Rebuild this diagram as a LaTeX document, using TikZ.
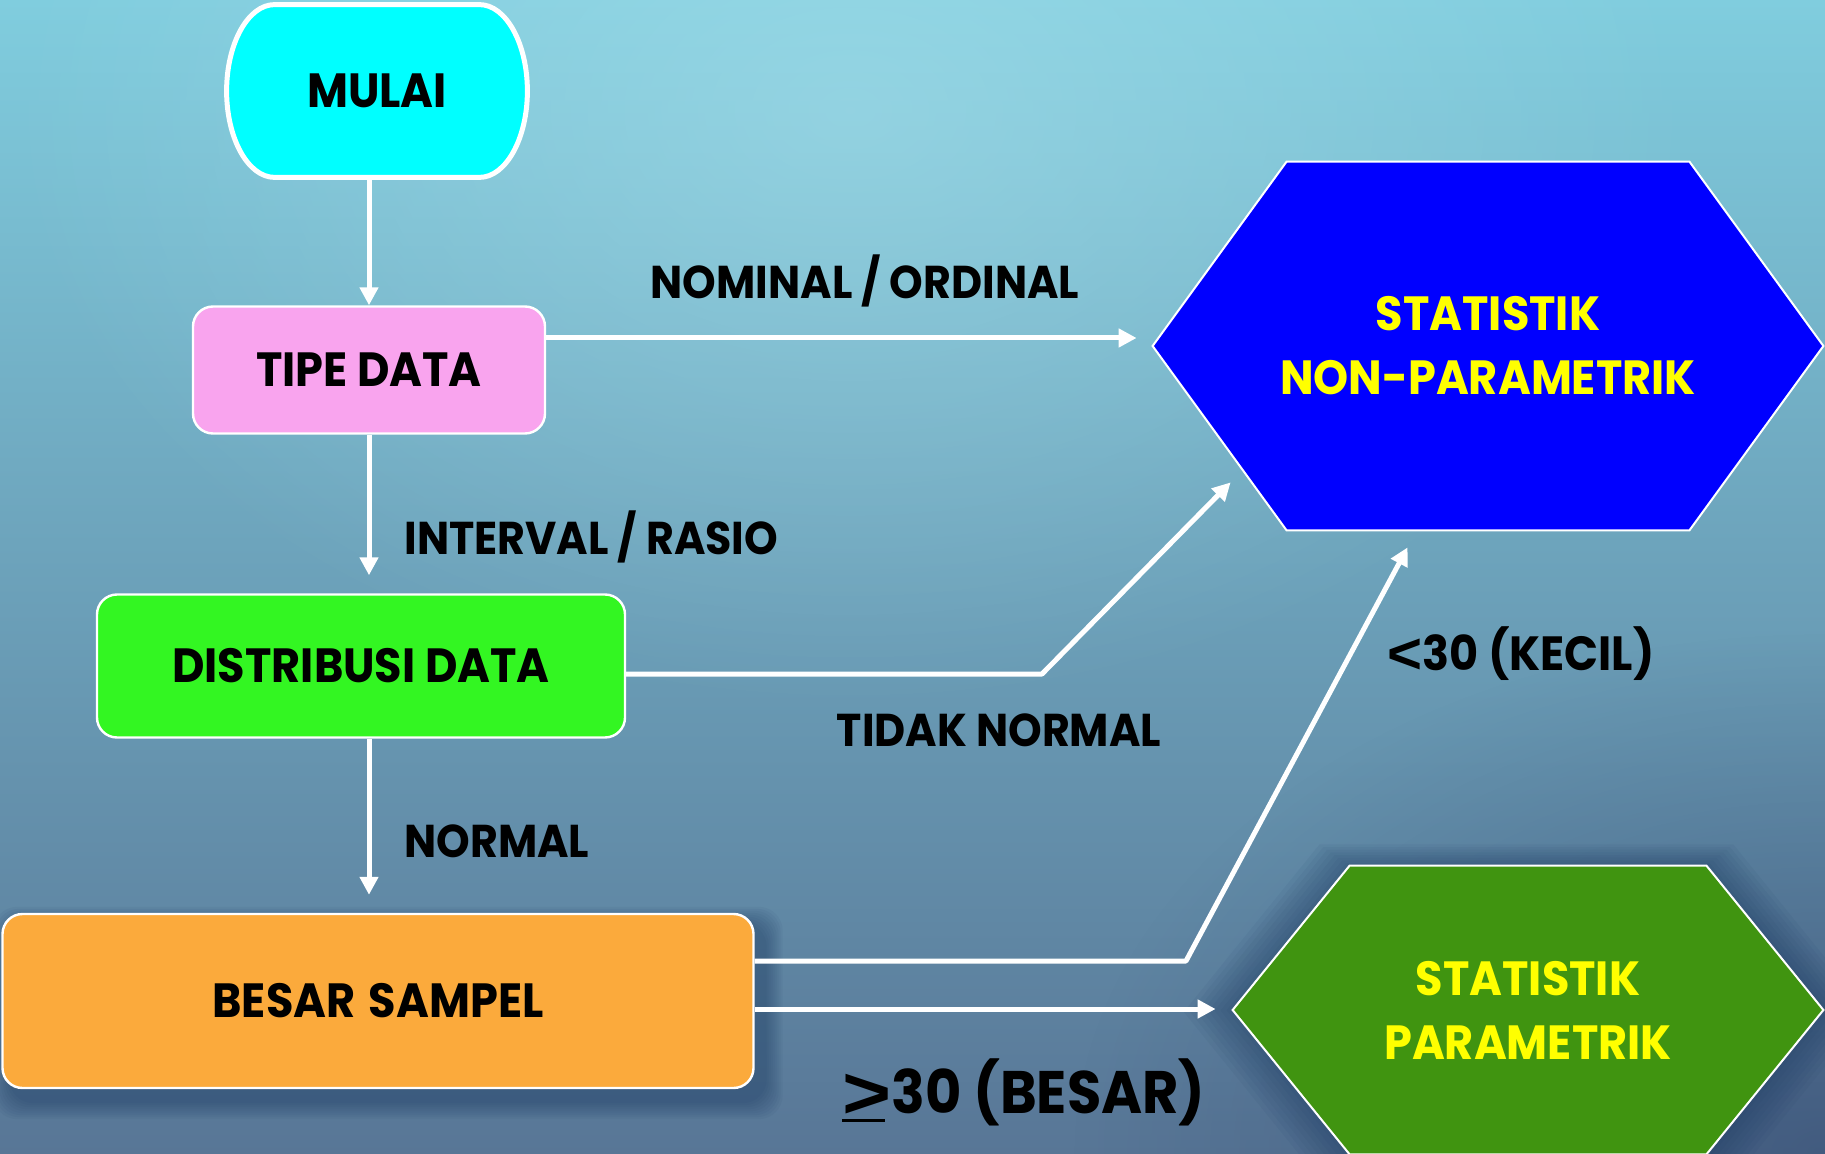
\documentclass[tikz,border=0pt]{standalone}
\usepackage{graphicx}
\usepackage{fontspec}
\setmainfont{Poppins}[FakeStretch=0.93]
\newfontfamily\symfnt{Liberation Sans}
\usetikzlibrary{arrows.meta,calc,fadings}
\definecolor{pinkc}{RGB}{249,164,238}
\definecolor{greenc}{RGB}{51,246,34}
\definecolor{orangec}{RGB}{251,170,60}
\definecolor{bluehex}{RGB}{0,0,255}
\definecolor{greenhex}{RGB}{64,148,16}
\definecolor{yellowc}{RGB}{255,255,0}
\definecolor{cyanc}{RGB}{0,255,255}
\definecolor{bgtop}{RGB}{128,205,222}
\definecolor{bgmid}{RGB}{108,180,204}
\definecolor{bgbot}{RGB}{88,118,150}
\definecolor{bgglow}{RGB}{175,228,238}
\definecolor{bgdark}{RGB}{45,65,105}
\definecolor{shadowc}{RGB}{25,55,95}
\tikzfading[name=glowfade, inner color=transparent!0, outer color=transparent!100]
\pgfdeclarelayer{bglayer}
\pgfdeclarelayer{shapelayer}
\pgfsetlayers{bglayer,shapelayer,main}
\begin{document}
\begin{tikzpicture}[x=0.5pt,y=-0.5pt,
  boxfont/.style={font=\fontsize{24}{28}\selectfont\bfseries, text height=16.7pt, text depth=0pt, inner sep=0pt},
  box/.style={boxfont, draw=white, line width=1.2pt, rounded corners=10pt},
  hextext/.style={font=\fontsize{24}{32}\selectfont\bfseries, text=yellowc, inner sep=0pt, align=center},
  lbl/.style={font=\fontsize{23}{28}\selectfont\bfseries, text height=16pt, text depth=0pt, inner sep=0pt},
  arr/.style={draw=white, line width=2.5pt, -{Triangle[length=9pt,width=9pt]}}]
\useasboundingbox (0,0) rectangle (1825,1154);
\begin{pgfonlayer}{bglayer}
  \shade[top color=bgtop, middle color=bgmid, bottom color=bgbot] (0,0) rectangle (1825,1154);
  \fill[bgglow, opacity=0.45, path fading=glowfade] (850,110) ellipse [x radius=850, y radius=600];
  \fill[bgdark, opacity=0.5, path fading=glowfade] (1825,1154) ellipse [x radius=750, y radius=520];
\end{pgfonlayer}

% nodes
\node[boxfont, minimum width=150pt, minimum height=86pt] (mulai) at (377,91) {MULAI};
\node[box, fill=pinkc, minimum width=176pt, minimum height=63.5pt] (tipe) at (369,370) {TIPE DATA};
\node[box, fill=greenc, minimum width=264pt, minimum height=71.5pt] (dist) at (361,666) {DISTRIBUSI DATA};
\node[box, fill=orangec, minimum width=375.5pt, minimum height=87pt] (besar) at (378,1001) {BESAR \hspace{2pt}SAMPEL};
\node[hextext, minimum width=335pt, minimum height=184pt] (npar) at (1488,346) {STATISTIK\\NON-PARAMETRIK};
\node[hextext, minimum width=295pt, minimum height=144pt] (par) at (1528,1010) {STATISTIK\\PARAMETRIK};

\begin{pgfonlayer}{shapelayer}
  % shadow of BESAR SAMPEL
  \foreach \i in {2,4,...,18}
    \fill[shadowc, opacity=0.055, rounded corners=12pt] ($(besar.north west)+(10-\i,12-\i)$) rectangle ($(besar.south east)+(10+\i,12+\i)$);
  % shadow of green hexagon
  \coordinate (pL) at (par.west);
  \coordinate (pTL) at ($(par.north west)+(117,0)$);
  \coordinate (pTR) at ($(par.north east)+(-117,0)$);
  \coordinate (pR) at (par.east);
  \coordinate (pBR) at ($(par.south east)+(-117,0)$);
  \coordinate (pBL) at ($(par.south west)+(117,0)$);
  \coordinate (pC) at ($(par.center)+(10,-12)$);
  \foreach \s in {1.02,1.04,...,1.16}
    \fill[shadowc, opacity=0.06] ($(pC)!\s!(pL)$) -- ($(pC)!\s!(pTL)$) -- ($(pC)!\s!(pTR)$) -- ($(pC)!\s!(pR)$) -- ($(pC)!\s!(pBR)$) -- ($(pC)!\s!(pBL)$) -- cycle;
  % MULAI terminal shape
  \draw[fill=cyanc, draw=white, line width=2.5pt]
    ($(mulai.north west)+(48,0)$) -- ($(mulai.north east)+(-48,0)$)
    .. controls +(26.5,0) and +(0,-47.5) .. (mulai.east)
    .. controls +(0,47.5) and +(26.5,0) .. ($(mulai.south east)+(-48,0)$)
    -- ($(mulai.south west)+(48,0)$)
    .. controls +(-26.5,0) and +(0,47.5) .. (mulai.west)
    .. controls +(0,-47.5) and +(-26.5,0) .. ($(mulai.north west)+(48,0)$) -- cycle;
  % blue hexagon
  \draw[fill=bluehex, draw=white, line width=1pt]
    (npar.west) -- ($(npar.north west)+(134,0)$) -- ($(npar.north east)+(-134,0)$) -- (npar.east)
    -- ($(npar.south east)+(-134,0)$) -- ($(npar.south west)+(134,0)$) -- cycle;
  % green hexagon
  \draw[fill=greenhex, draw=white, line width=1pt]
    (pL) -- (pTL) -- (pTR) -- (pR) -- (pBR) -- (pBL) -- cycle;
\end{pgfonlayer}

% vertical connectors
\draw[arr] (mulai.south -| tipe.north) -- (tipe.north);
\draw[arr, shorten >=9pt] (tipe.south) -- (tipe.south |- dist.north);
\draw[arr, shorten >=9pt] (dist.south -| tipe.south) -- (tipe.south |- besar.north);

% connectors to the hexagons
\coordinate (a1) at ($(tipe.east)+(0,-32)$);
\draw[arr, shorten >=8pt] (a1) -- (a1 -| npar.west);

\coordinate (b0) at ($(dist.east)+(0,8)$);
\coordinate (b1) at (1042,674);
\coordinate (b2) at ($(npar.south west)+(78,-48)$);
\draw[arr, line join=round] (b0) -- (b1) -- (b2);

\coordinate (c0) at ($(besar.east)+(0,-40)$);
\coordinate (c1) at (1186,961);
\coordinate (c2) at ($(npar.south west)+(255,17)$);
\draw[arr, line join=round] (c0) -- (c1) -- (c2);

\coordinate (d0) at ($(besar.east)+(0,8)$);
\draw[arr, shorten >=8.5pt] (d0) -- (d0 -| par.west);

% labels
\node[lbl] (l1) at (865,283) {NOMINAL / ORDINAL};
\node[lbl, anchor=west] (l2) at (404,538) {INTERVAL / RASIO};
\node[lbl, anchor=west] (l3) at (404,841) {NORMAL};
\node[lbl] (l4) at (999,730) {TIDAK NORMAL};
\node[lbl, font=\fontsize{24}{28}\selectfont\bfseries, text height=16.7pt] (l5) at (1521,654) {\raisebox{-1.5pt}{\scalebox{1.25}[1.2]{\symfnt <}}30 (KECIL)};
\node[lbl, font=\fontsize{30}{36}\selectfont\bfseries, text height=20.9pt] (l6) at (1024,1093) {\raisebox{-2.2pt}{\scalebox{1.4}[1.23]{\symfnt >}}30 (BESAR)};
\draw[line width=1.5pt, black] ($(l6.base west)+(0,6.5)$) -- ++(43,0);
\end{tikzpicture}
\end{document}
